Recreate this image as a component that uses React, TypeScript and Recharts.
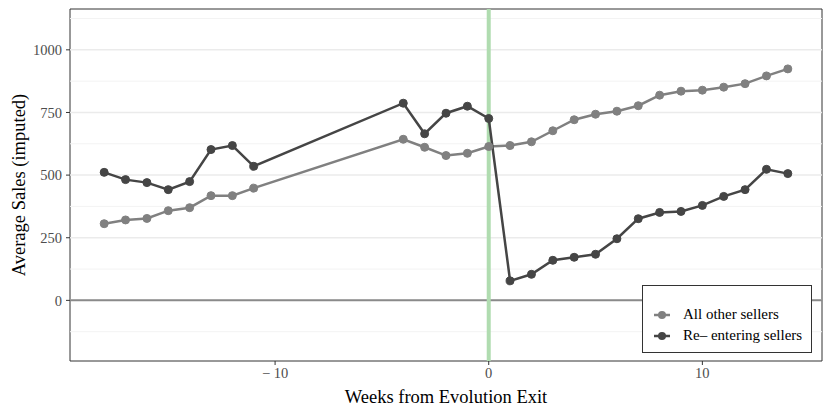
import {
  Line,
  LineChart,
  ReferenceArea,
  ReferenceLine,
  XAxis,
  YAxis,
} from 'recharts'

const weeks = [-18, -17, -16, -15, -14, -13, -12, -11, -4, -3, -2, -1, 0, 1, 2, 3, 4, 5, 6, 7, 8, 9, 10, 11, 12, 13, 14]
const allOther = [306, 321, 327, 358, 370, 418, 418, 448, 643, 611, 578, 587, 614, 618, 633, 677, 721, 743, 755, 777, 819, 835, 839, 851, 865, 896, 924]
const reEntering = [511, 482, 470, 442, 474, 602, 618, 535, 787, 665, 747, 775, 726, 78, 104, 160, 172, 184, 246, 326, 351, 355, 379, 415, 442, 523, 506]

const xTicks = [-10, 0, 10]
const yMajor = [0, 250, 500, 750, 1000]
const yMinor = [-125, 125, 375, 625, 875, 1125]
const seriesNames = ['All other sellers', 'Re\u2013 entering sellers']
const X_DOMAIN: [number, number] = [-19.6, 15.6]
const Y_DOMAIN: [number, number] = [-242, 1163]

const LIGHT = '#808080'
const DARK = '#454545'
const FONT = '"Liberation Serif", "DejaVu Serif", serif'
const TICK = { fill: '#4d4d4d', fontSize: 14.5, fontFamily: FONT }

const data = weeks.map((w, i) => ({ week: w, other: allOther[i], reentry: reEntering[i] }))

function LegendBox() {
  const colors = [LIGHT, DARK]
  return (
    <div
      style={{
        position: 'absolute',
        right: 18,
        bottom: 62,
        width: 170,
        height: 68,
        border: '1px solid #333',
        background: '#fff',
        boxSizing: 'border-box',
        padding: '18px 0 0 10px',
        fontFamily: FONT,
        fontSize: 15,
        color: '#000',
      }}
    >
      {seriesNames.map((name, i) => (
        <div key={name} style={{ display: 'flex', alignItems: 'center', height: 21, whiteSpace: 'nowrap' }}>
          <svg width={20} height={12} style={{ marginRight: 10, flex: 'none' }}>
            <line x1={1} y1={6} x2={17} y2={6} stroke={colors[i]} strokeWidth={2.5} />
            <circle cx={9} cy={6} r={4} fill={colors[i]} />
          </svg>
          <span>{name}</span>
        </div>
      ))}
    </div>
  )
}

export default function App() {
  return (
    <div style={{ position: 'absolute', left: 0, top: 0, width: 830, height: 415, background: '#fff' }}>
      <LineChart width={830} height={415} data={data} margin={{ top: 9, right: 8, bottom: 0, left: 0 }}>
        {yMinor.map((v) => (
          <ReferenceLine key={'mi' + v} y={v} stroke="#f3f3f3" strokeWidth={1} />
        ))}
        {yMajor.map((v) => (
          <ReferenceLine key={'ma' + v} y={v} stroke="#ebebeb" strokeWidth={1.5} />
        ))}
        <ReferenceLine y={0} stroke="#8a8a8a" strokeWidth={2} />
        <ReferenceLine x={0} stroke="#b0dcb0" strokeWidth={4} />
        <XAxis
          dataKey="week"
          type="number"
          domain={X_DOMAIN}
          allowDataOverflow
          ticks={xTicks}
          tickFormatter={(v: number) => (v < 0 ? `\u2212 ${-v}` : String(v))}
          tick={TICK}
          stroke="#4d4d4d"
          tickSize={4}
          tickMargin={3}
          tickLine={{ stroke: '#333' }}
          axisLine={false}
          height={54}
          label={{
            value: 'Weeks from Evolution Exit',
            position: 'insideBottom',
            offset: 12,
            style: { fill: '#000', fontSize: 18.5, fontFamily: FONT },
          }}
        />
        <YAxis
          type="number"
          domain={Y_DOMAIN}
          allowDataOverflow
          ticks={yMajor}
          tick={TICK}
          stroke="#4d4d4d"
          tickSize={4}
          tickMargin={4}
          tickLine={{ stroke: '#333' }}
          axisLine={false}
          width={70}
          label={{
            value: 'Average Sales (imputed)',
            angle: -90,
            position: 'insideLeft',
            offset: 18,
            style: { fill: '#000', fontSize: 18.5, fontFamily: FONT, textAnchor: 'middle' },
          }}
        />
        <ReferenceArea
          x1={X_DOMAIN[0]}
          x2={X_DOMAIN[1]}
          y1={Y_DOMAIN[0]}
          y2={Y_DOMAIN[1]}
          fill="none"
          fillOpacity={0}
          stroke="#333"
          strokeWidth={1}
        />
        <Line
          dataKey="other"
          name={seriesNames[0]}
          stroke={LIGHT}
          strokeWidth={2.5}
          dot={{ r: 4, fill: LIGHT, stroke: LIGHT, strokeWidth: 1 }}
          isAnimationActive={false}
        />
        <Line
          dataKey="reentry"
          name={seriesNames[1]}
          stroke={DARK}
          strokeWidth={2.5}
          dot={{ r: 4, fill: DARK, stroke: DARK, strokeWidth: 1 }}
          isAnimationActive={false}
        />
      </LineChart>
      <LegendBox />
    </div>
  )
}
